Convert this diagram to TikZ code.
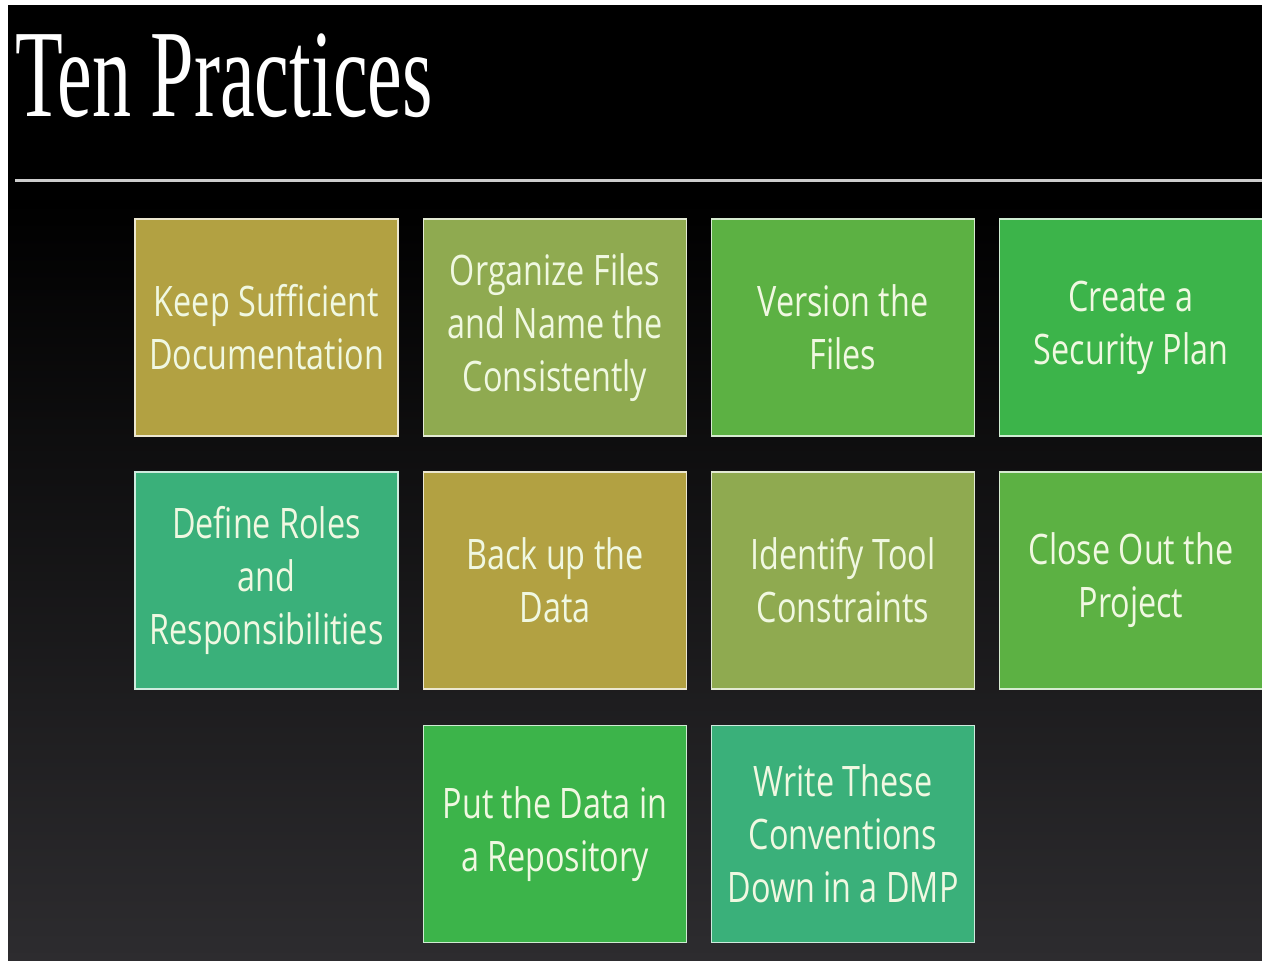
\documentclass[tikz,border=0pt]{standalone}
\usepackage{fontspec}
\usepackage{graphicx}
\newfontfamily\titlefont{Liberation Serif}
\newfontfamily\boxfont[FakeStretch=0.77]{Open Sans}
\definecolor{bgbot}{RGB}{45,44,47}
\definecolor{rulecol}{RGB}{205,205,205}
\definecolor{txtcol}{RGB}{240,248,225}
\definecolor{cOlive}{RGB}{178,161,66}
\definecolor{cOliveGreen}{RGB}{143,170,80}
\definecolor{cGrass}{RGB}{92,177,67}
\definecolor{cGreen}{RGB}{60,180,74}
\definecolor{cTeal}{RGB}{58,176,122}
\begin{document}
\begin{tikzpicture}[x=1pt,y=-1pt,
  practice/.style={draw=white!75!#1, line width=1.6pt, fill=#1, rectangle,
    minimum width=263pt, minimum height=217pt, inner sep=0pt,
    text=txtcol, align=flush center, text width=262pt,
    font=\boxfont\fontsize{42}{53}\selectfont}]
\useasboundingbox (0,0) rectangle (1262,961);
\fill[white] (0,0) rectangle (1262,961);
\fill[black] (8,5) rectangle (1262,200);
\shade[top color=black,bottom color=bgbot] (8,200) rectangle (1262,961);
\clip (0,0) rectangle (1262,961);
% title
\node[anchor=base west, inner sep=0pt, text=white,
  font=\titlefont\fontsize{125}{125}\selectfont] (title) at (15,116)
  {\scalebox{0.625}[1]{Ten Practices}};
\coordinate (ruleL) at (15,180);
\coordinate (ruleR) at (1262,180);
\draw[rulecol, line width=3pt] (ruleL) -- (ruleR);
% row 1
\node[practice=cOlive] (keep) at (266.5,327.5) {Keep Sufficient\\Documentation};
\node[practice=cOliveGreen] (organize) at (555,327.5) {Organize Files\\and Name the\\Consistently};
\node[practice=cGrass] (version) at (843,327.5) {Version the\\Files};
\node[practice=cGreen] (security) at (1131,327.5) {Create a\\Security Plan};
% row 2
\node[practice=cTeal] (roles) at (266.5,580.5) {Define Roles\\and\\Responsibilities};
\node[practice=cOlive] (backup) at (555,580.5) {Back up the\\Data};
\node[practice=cOliveGreen] (tools) at (843,580.5) {Identify Tool\\Constraints};
\node[practice=cGrass] (close) at (1131,580.5) {Close Out the\\Project};
% row 3
\node[practice=cGreen] (repo) at (555,834) {Put the Data in\\a Repository};
\node[practice=cTeal] (dmp) at (843,834) {Write These\\Conventions\\Down in a DMP};
\end{tikzpicture}
\end{document}
